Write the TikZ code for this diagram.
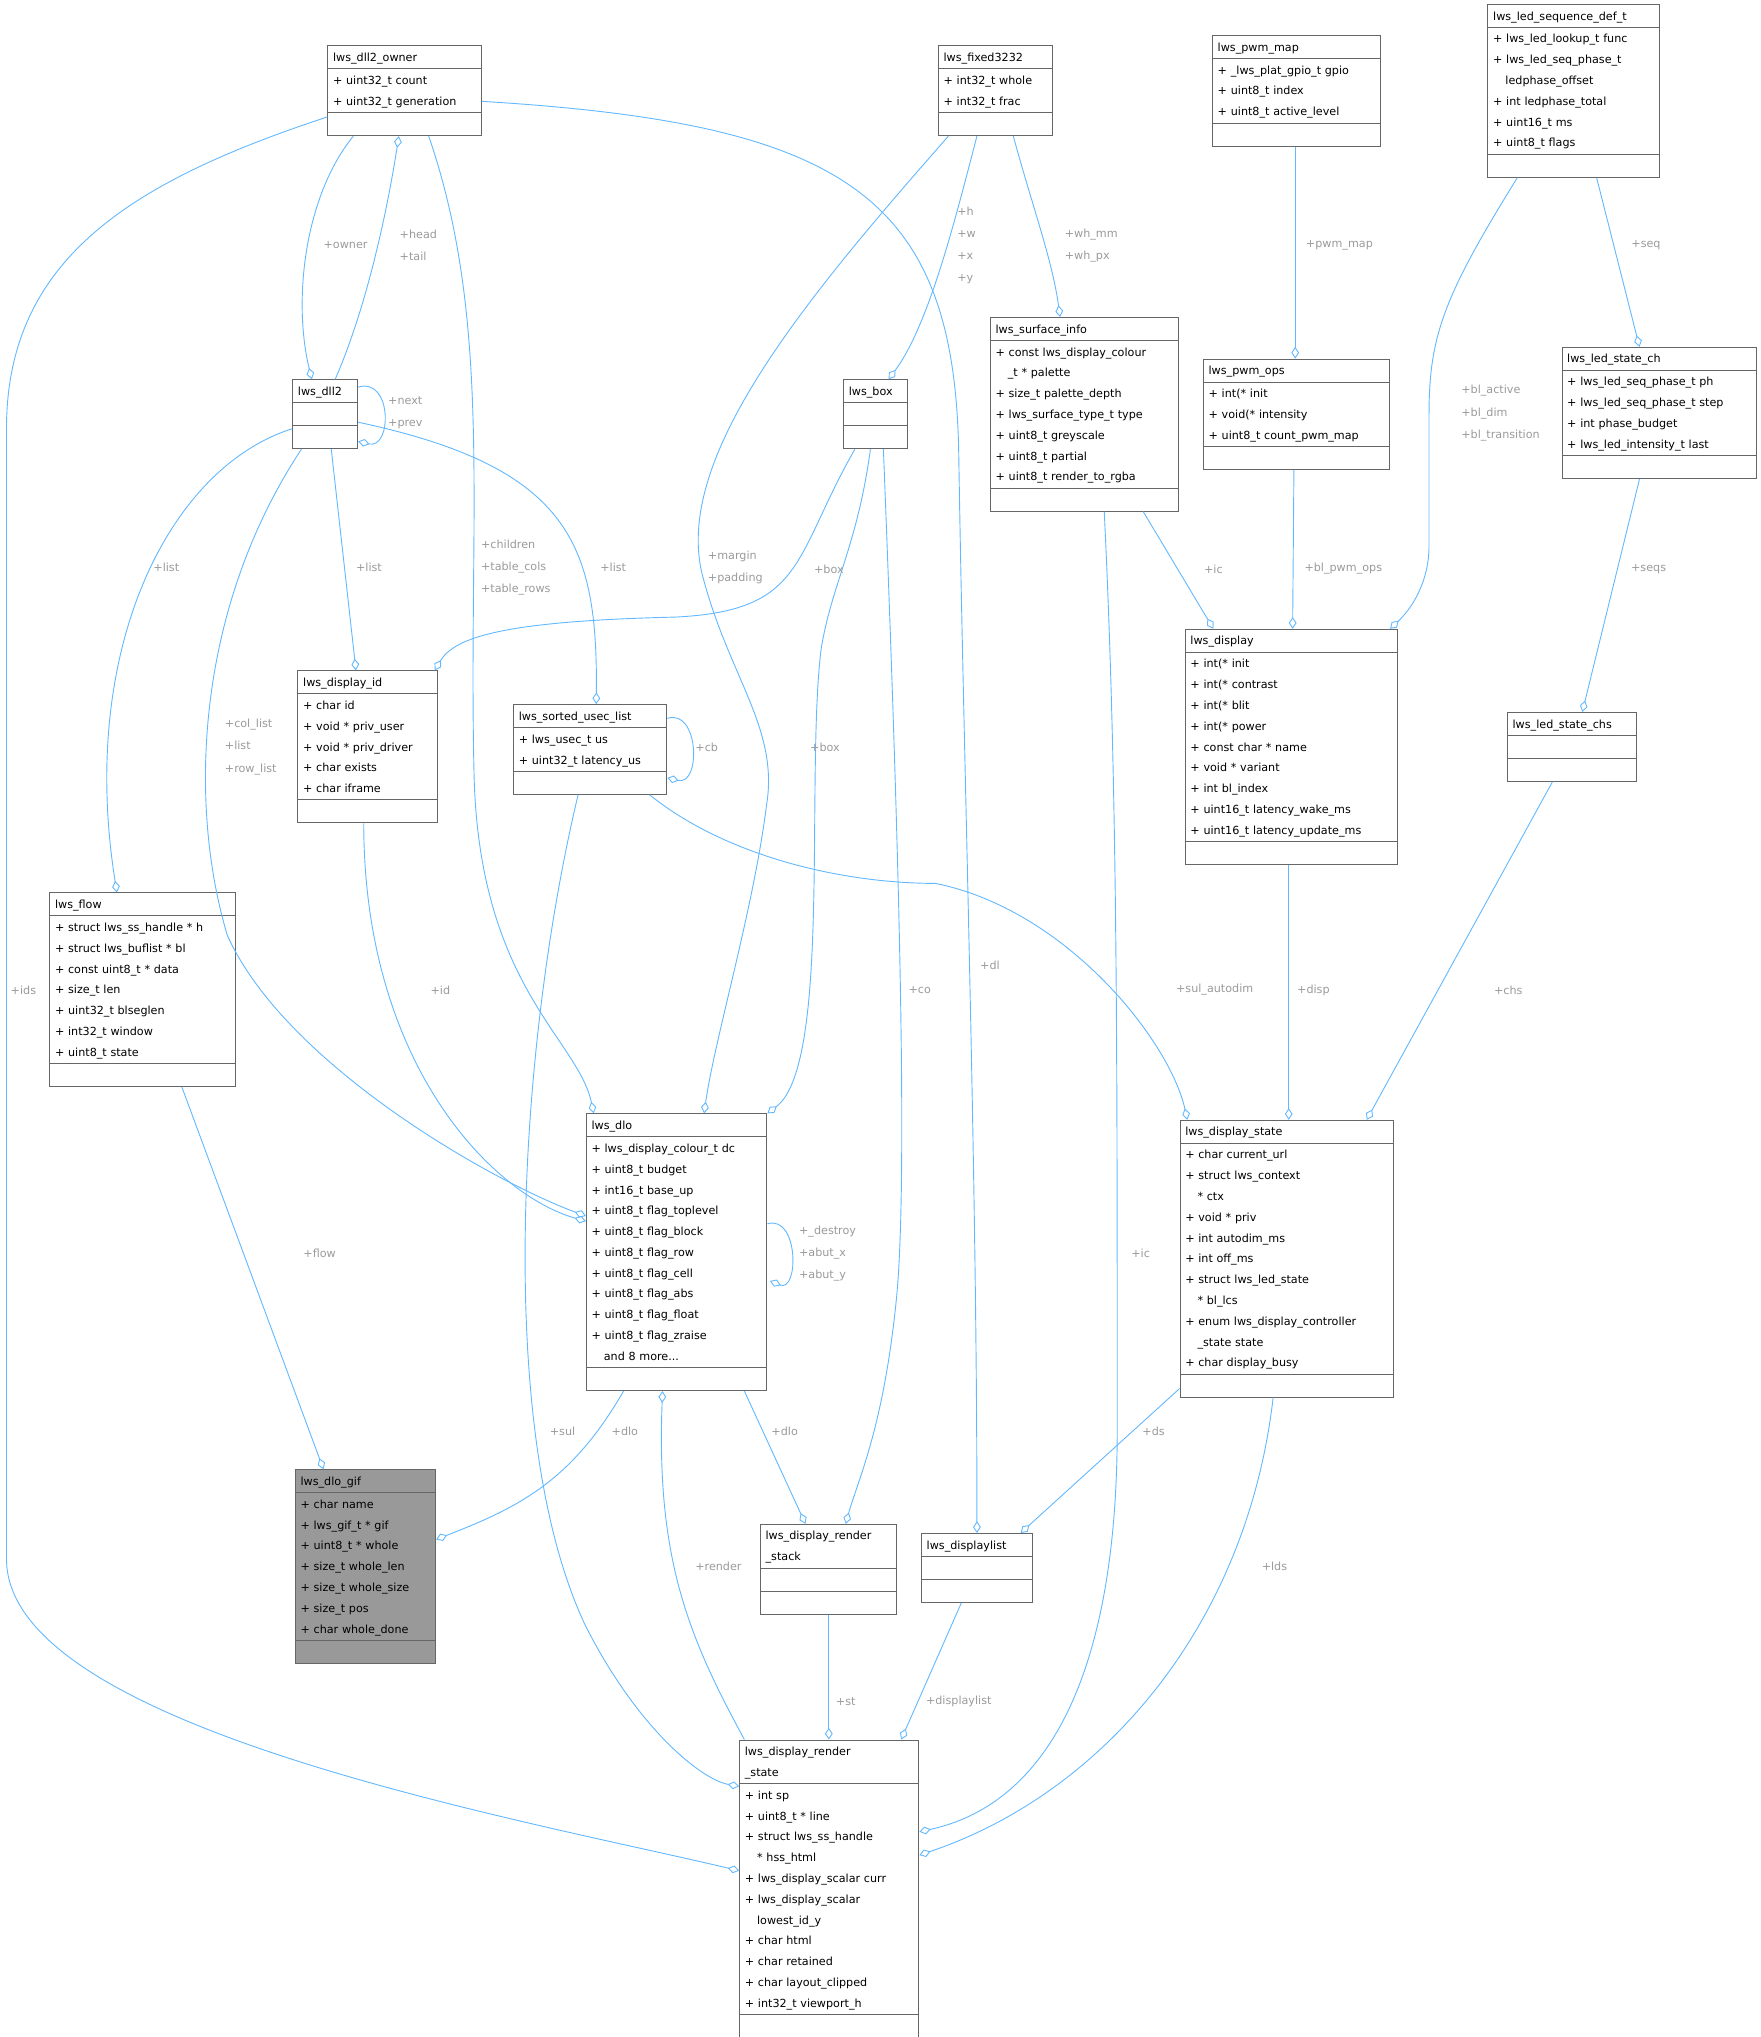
\documentclass[tikz,border=0pt]{standalone}
\usepackage{fontspec}
\setmainfont{DejaVu Sans}
\usetikzlibrary{arrows.meta, shapes.multipart}
\definecolor{boxc}{HTML}{666666}
\definecolor{gifc}{HTML}{999999}
\definecolor{edgec}{HTML}{63B8FF}
\definecolor{labc}{HTML}{9A9A9A}
\tikzset{
  cls/.style={draw=boxc, line width=0.7pt, fill=white, rectangle split, rectangle split parts=3,
    rectangle split part align={center,left,left}, anchor=north west,
    inner xsep=4pt, inner ysep=0.5pt, font=\fontsize{8.6}{16}\selectfont},
  agg/.style={draw=edgec, line width=0.7pt, -{Diamond[open,length=9pt,width=6pt]}},
  lbl/.style={text=labc, font=\fontsize{8.6}{17}\selectfont, align=left, inner sep=0pt}
}
\newcommand{\ind}{\hspace*{1.1em}}
\begin{document}
\catcode`\_=12
\begin{tikzpicture}[x=1pt,y=-1pt]
\useasboundingbox (0,0) rectangle (1355,1568);

% classes
\node[cls, text width=110] (owner) at (252,35) {\strut lws_dll2_owner\nodepart{two}\strut + uint32_t count\\+ uint32_t generation\strut\nodepart{three}\strut};
\node[cls, text width=80] (fixed) at (722,35) {\strut lws_fixed3232\nodepart{two}\strut + int32_t whole\\+ int32_t frac\strut\nodepart{three}\strut};
\node[cls, text width=121] (pwmmap) at (933,27) {\strut lws_pwm_map\nodepart{two}\strut + _lws_plat_gpio_t gpio\\+ uint8_t index\\+ uint8_t active_level\strut\nodepart{three}\strut};
\node[cls, text width=124] (ledseq) at (1145,3) {\strut lws_led_sequence_def_t\nodepart{two}\strut + lws_led_lookup_t func\\+ lws_led_seq_phase_t\\\ind ledphase_offset\\+ int ledphase_total\\+ uint16_t ms\\+ uint8_t flags\strut\nodepart{three}\strut};
\node[cls, text width=137] (surf) at (762,244) {\strut lws_surface_info\nodepart{two}\strut + const lws_display_colour\\\ind _t * palette\\+ size_t palette_depth\\+ lws_surface_type_t type\\+ uint8_t greyscale\\+ uint8_t partial\\+ uint8_t render_to_rgba\strut\nodepart{three}\strut};
\node[cls, text width=135] (pwmops) at (926,276) {\strut lws_pwm_ops\nodepart{two}\strut + int(* init\\+ void(* intensity\\+ uint8_t count_pwm_map\strut\nodepart{three}\strut};
\node[cls, text width=142] (ledch) at (1202,267) {\strut lws_led_state_ch\nodepart{two}\strut + lws_led_seq_phase_t ph\\+ lws_led_seq_phase_t step\\+ int phase_budget\\+ lws_led_intensity_t last\strut\nodepart{three}\strut};
\node[cls, text width=42] (dll2) at (225,292) {\strut lws_dll2\nodepart{two}\strut\nodepart{three}\strut};
\node[cls, text width=41] (box) at (649,292) {\strut lws_box\nodepart{two}\strut\nodepart{three}\strut};
\node[cls, text width=99] (dispid) at (229,516) {\strut lws_display_id\nodepart{two}\strut + char id\\+ void * priv_user\\+ void * priv_driver\\+ char exists\\+ char iframe\strut\nodepart{three}\strut};
\node[cls, text width=110] (sul) at (395,542) {\strut lws_sorted_usec_list\nodepart{two}\strut + lws_usec_t us\\+ uint32_t latency_us\strut\nodepart{three}\strut};
\node[cls, text width=155] (disp) at (912,484) {\strut lws_display\nodepart{two}\strut + int(* init\\+ int(* contrast\\+ int(* blit\\+ int(* power\\+ const char * name\\+ void * variant\\+ int bl_index\\+ uint16_t latency_wake_ms\\+ uint16_t latency_update_ms\strut\nodepart{three}\strut};
\node[cls, text width=91] (chs) at (1160,548) {\strut lws_led_state_chs\nodepart{two}\strut\nodepart{three}\strut};
\node[cls, text width=135] (flow) at (38,687) {\strut lws_flow\nodepart{two}\strut + struct lws_ss_handle * h\\+ struct lws_buflist * bl\\+ const uint8_t * data\\+ size_t len\\+ uint32_t blseglen\\+ int32_t window\\+ uint8_t state\strut\nodepart{three}\strut};
\node[cls, text width=131] (dlo) at (451,857) {\strut lws_dlo\nodepart{two}\strut + lws_display_colour_t dc\\+ uint8_t budget\\+ int16_t base_up\\+ uint8_t flag_toplevel\\+ uint8_t flag_block\\+ uint8_t flag_row\\+ uint8_t flag_cell\\+ uint8_t flag_abs\\+ uint8_t flag_float\\+ uint8_t flag_zraise\\\ind and 8 more...\strut\nodepart{three}\strut};
\node[cls, text width=156] (dstate) at (908,862) {\strut lws_display_state\nodepart{two}\strut + char current_url\\+ struct lws_context\\\ind * ctx\\+ void * priv\\+ int autodim_ms\\+ int off_ms\\+ struct lws_led_state\\\ind * bl_lcs\\+ enum lws_display_controller\\\ind _state state\\+ char display_busy\strut\nodepart{three}\strut};
\node[cls, text width=100, fill=gifc] (gif) at (227,1131) {\strut lws_dlo_gif\nodepart{two}\strut + char name\\+ lws_gif_t * gif\\+ uint8_t * whole\\+ size_t whole_len\\+ size_t whole_size\\+ size_t pos\\+ char whole_done\strut\nodepart{three}\strut};
\node[cls, text width=97] (rstack) at (585,1173) {\strut lws_display_render\\_stack\strut\nodepart{two}\strut\nodepart{three}\strut};
\node[cls, text width=77] (dlist) at (709,1180) {\strut lws_displaylist\nodepart{two}\strut\nodepart{three}\strut};
\node[cls, text width=130] (rstate) at (569,1339) {\strut lws_display_render\\_state\strut\nodepart{two}\strut + int sp\\+ uint8_t * line\\+ struct lws_ss_handle\\\ind * hss_html\\+ lws_display_scalar curr\\+ lws_display_scalar\\\ind lowest_id_y\\+ char html\\+ char retained\\+ char layout_clipped\\+ int32_t viewport_h\strut\nodepart{three}\strut};

% connectors
\draw[agg] ([shift={(20,0)}]owner.south west) .. controls (235,150) and (225,230) .. ([shift={(15,0)}]dll2.north west);
\draw[agg] ([shift={(33,0)}]dll2.north west) .. controls (285,230) and (300,150) .. ([shift={(55,0)}]owner.south west);
\draw[agg] ([shift={(0,6)}]dll2.north east) .. controls (302,290) and (302,346) .. ([shift={(0,-6)}]dll2.south east);
\draw[agg] ([shift={(0,38)}]dll2.north west) .. controls (130,360) and (60,500) .. ([shift={(52,0)}]flow.north west);
\draw[agg] ([shift={(30,0)}]dll2.south west) -- ([shift={(45,0)}]dispid.north west);
\draw[agg] ([shift={(0,33)}]dll2.north east) .. controls (440,360) and (460,420) .. ([shift={(64,0)}]sul.north west);
\draw[agg] ([shift={(7,0)}]dll2.south west) .. controls (150,470) and (145,620) .. (175,720) .. controls (220,820) and (380,910) .. ([shift={(0,79)}]dlo.north west);
\draw[agg] ([shift={(78,0)}]owner.south west) .. controls (380,250) and (360,400) .. (365,600) .. controls (370,760) and (445,800) .. ([shift={(6,0)}]dlo.north west);
\draw[agg] ([shift={(0,55)}]owner.north west) .. controls (100,140) and (5,200) .. (5,330) -- (5,1200) .. controls (5,1330) and (400,1400) .. ([shift={(0,101)}]rstate.north west);
\draw[agg] ([shift={(0,43)}]owner.north east) .. controls (650,95) and (735,150) .. (738,350) .. controls (742,600) and (752,900) .. ([shift={(43,0)}]dlist.north west);
\draw[agg] ([shift={(30,0)}]fixed.south west) .. controls (735,170) and (715,250) .. ([shift={(35,0)}]box.north west);
\draw[agg] ([shift={(58,0)}]fixed.south west) .. controls (795,160) and (810,200) .. ([shift={(54,0)}]surf.north west);
\draw[agg] ([shift={(8,0)}]fixed.south west) .. controls (620,230) and (520,350) .. (540,440) .. controls (560,520) and (600,560) .. (590,620) .. controls (580,700) and (550,800) .. ([shift={(91,0)}]dlo.north west);
\draw[agg] ([shift={(64,0)}]pwmmap.south west) -- ([shift={(71,0)}]pwmops.north west);
\draw[agg] ([shift={(84,0)}]ledseq.south west) -- ([shift={(60,0)}]ledch.north west);
\draw[agg] ([shift={(23,0)}]ledseq.south west) .. controls (1110,230) and (1100,260) .. (1100,320) -- (1100,420) .. controls (1100,450) and (1085,470) .. ([shift={(158,0)}]disp.north west);
\draw[agg] ([shift={(118,0)}]surf.south west) -- ([shift={(22,0)}]disp.north west);
\draw[agg] ([shift={(88,0)}]surf.south west) .. controls (860,600) and (860,800) .. (860,1100) .. controls (860,1300) and (800,1390) .. ([shift={(0,71)}]rstate.north east);
\draw[agg] ([shift={(70,0)}]pwmops.south west) -- ([shift={(83,0)}]disp.north west);
\draw[agg] ([shift={(60,0)}]ledch.south west) -- ([shift={(58,0)}]chs.north west);
\draw[agg] ([shift={(9,0)}]box.south west) .. controls (610,430) and (620,470) .. (520,475) .. controls (390,478) and (350,490) .. ([shift={(-2,0)}]dispid.north east);
\draw[agg] ([shift={(21,0)}]box.south west) .. controls (660,420) and (640,450) .. (632,500) .. controls (620,600) and (640,820) .. (dlo.north east);
\draw[agg] ([shift={(31,0)}]box.south west) .. controls (690,600) and (700,900) .. (690,1000) .. controls (680,1100) and (660,1140) .. ([shift={(66,0)}]rstack.north west);
\draw[agg] ([shift={(51,0)}]dispid.south west) .. controls (280,820) and (380,920) .. ([shift={(0,83)}]dlo.north west);
\draw[agg] ([shift={(0,11)}]sul.north east) .. controls (538,545) and (540,605) .. ([shift={(0,-13)}]sul.south east);
\draw[agg] ([shift={(105,0)}]sul.south west) .. controls (560,660) and (650,680) .. (720,680) .. controls (820,700) and (900,800) .. ([shift={(6,0)}]dstate.north west);
\draw[agg] ([shift={(50,0)}]sul.south west) .. controls (400,800) and (380,1100) .. (450,1250) .. controls (490,1330) and (540,1370) .. ([shift={(0,36)}]rstate.north west);
\draw[agg] ([shift={(80,0)}]disp.south west) -- ([shift={(84,0)}]dstate.north west);
\draw[agg] ([shift={(35,0)}]chs.south west) -- ([shift={(144,0)}]dstate.north west);
\draw[agg] ([shift={(102,0)}]flow.south west) -- ([shift={(22,0)}]gif.north west);
\draw[agg] ([shift={(29,0)}]dlo.south west) .. controls (440,1140) and (400,1160) .. ([shift={(0,54)}]gif.north east);
\draw[agg] ([shift={(0,85)}]dlo.north east) .. controls (615,935) and (615,995) .. ([shift={(2,129)}]dlo.north east);
\draw[agg] ([shift={(122,0)}]dlo.south west) -- ([shift={(35,0)}]rstack.north west);
\draw[agg] ([shift={(4,0)}]rstate.north west) .. controls (530,1260) and (505,1200) .. ([shift={(59,0)}]dlo.south west);
\draw[agg] ([shift={(0,-7)}]dstate.south west) -- ([shift={(-9,0)}]dlist.north east);
\draw[agg] ([shift={(72,0)}]dstate.south west) .. controls (960,1250) and (850,1380) .. ([shift={(0,89)}]rstate.north east);
\draw[agg] ([shift={(53,0)}]rstack.south west) -- ([shift={(69,0)}]rstate.north west);
\draw[agg] ([shift={(31,0)}]dlist.south west) -- ([shift={(-14,0)}]rstate.north east);

% labels
\node[lbl] (lowner) at (266,189) {+owner};
\node[lbl] (lhead) at (322,189) {+head\\+tail};
\node[lbl] (lnext) at (312,318) {+next\\+prev};
\node[lbl] (llista) at (128,437) {+list};
\node[lbl] (llistb) at (284,437) {+list};
\node[lbl] (llistc) at (472,437) {+list};
\node[lbl] (lcol) at (193,575) {+col_list\\+list\\+row_list};
\node[lbl] (lchild) at (397,437) {+children\\+table_cols\\+table_rows};
\node[lbl] (lids) at (18,762) {+ids};
\node[lbl] (ldl) at (762,743) {+dl};
\node[lbl] (lhwxy) at (744,189) {+h\\+w\\+x\\+y};
\node[lbl] (lwh) at (840,189) {+wh_mm\\+wh_px};
\node[lbl] (lmargin) at (566,437) {+margin\\+padding};
\node[lbl] (lpwmmap) at (1031,189) {+pwm_map};
\node[lbl] (lseq) at (1267,189) {+seq};
\node[lbl] (lbl) at (1155,318) {+bl_active\\+bl_dim\\+bl_transition};
\node[lbl] (lica) at (934,438) {+ic};
\node[lbl] (licb) at (878,965) {+ic};
\node[lbl] (lpwmops) at (1034,438) {+bl_pwm_ops};
\node[lbl] (lseqs) at (1269,438) {+seqs};
\node[lbl] (lboxa) at (638,438) {+box};
\node[lbl] (lboxb) at (635,575) {+box};
\node[lbl] (lco) at (708,762) {+co};
\node[lbl] (lid) at (339,762) {+id};
\node[lbl] (lcb) at (544,575) {+cb};
\node[lbl] (lsulad) at (935,762) {+sul_autodim};
\node[lbl] (lsul) at (433,1102) {+sul};
\node[lbl] (ldisp) at (1011,762) {+disp};
\node[lbl] (lchs) at (1161,762) {+chs};
\node[lbl] (lflow) at (246,965) {+flow};
\node[lbl] (ldloa) at (481,1102) {+dlo};
\node[lbl] (ldestroy) at (637,965) {+_destroy\\+abut_x\\+abut_y};
\node[lbl] (ldlob) at (604,1102) {+dlo};
\node[lbl] (lrender) at (553,1206) {+render};
\node[lbl] (lds) at (888,1102) {+ds};
\node[lbl] (llds) at (981,1206) {+lds};
\node[lbl] (lst) at (651,1310) {+st};
\node[lbl] (ldlist) at (738,1310) {+displaylist};
\end{tikzpicture}
\end{document}
